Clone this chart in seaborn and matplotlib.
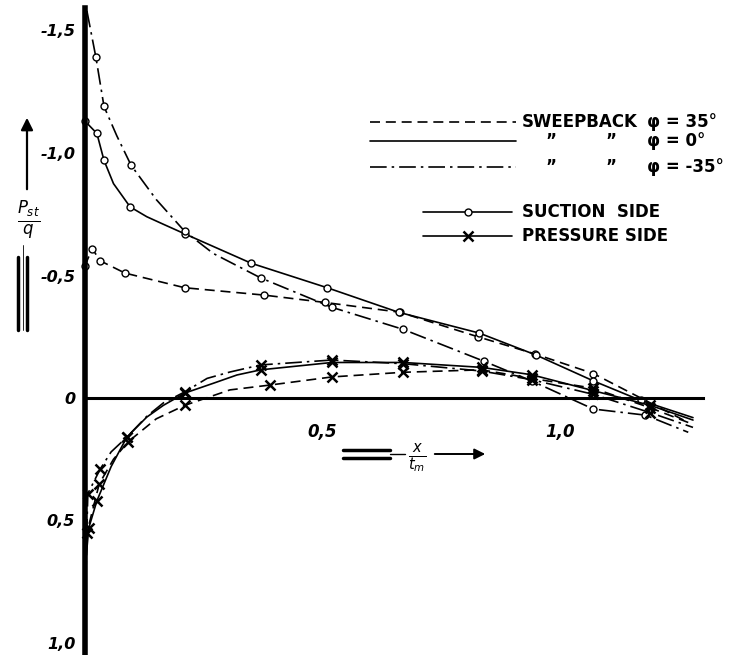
import numpy as np
import pandas as pd
import matplotlib
matplotlib.use("Agg")
import matplotlib.pyplot as plt
import seaborn as sns
from matplotlib.lines import Line2D

sns.set_style("white")
plt.rcParams['font.family'] = ['DejaVu Sans']

# ---------------- data ----------------
# suction side, sweepback phi = 35 deg (dashed)
x_suc_35 = [0.0, 0.015, 0.032, 0.084, 0.21, 0.377, 0.505, 0.663, 0.827, 0.947, 1.07, 1.27]
y_suc_35 = [-0.54, -0.61, -0.56, -0.51, -0.45, -0.42, -0.39, -0.35, -0.25, -0.18, -0.10, 0.10]
m_suc_35 = [0, 1, 2, 3, 4, 5, 6, 7, 8, 9, 10]
# suction side, phi = 0 deg (solid)
x_suc_0 = [0.0, 0.025, 0.04, 0.06, 0.095, 0.13, 0.164, 0.21, 0.35, 0.51, 0.66, 0.83, 0.95, 1.07, 1.17, 1.28]
y_suc_0 = [-1.13, -1.08, -0.97, -0.875, -0.78, -0.74, -0.71, -0.67, -0.55, -0.45, -0.35, -0.265, -0.175, -0.07, 0.01, 0.08]
m_suc_0 = [0, 1, 2, 4, 7, 8, 9, 10, 11, 12, 13, 14]
# suction side, phi = -35 deg (dash-dot)
x_suc_m35 = [0.004, 0.023, 0.04, 0.067, 0.097, 0.15, 0.21, 0.27, 0.37, 0.52, 0.67, 0.84, 0.94, 1.07, 1.18, 1.27]
y_suc_m35 = [-1.58, -1.39, -1.19, -1.07, -0.95, -0.81, -0.68, -0.59, -0.49, -0.37, -0.28, -0.15, -0.07, 0.045, 0.07, 0.14]
m_suc_m35 = [1, 2, 4, 6, 8, 9, 10, 11, 12, 13, 14]

# pressure side, phi = 35 deg (dashed)
x_pre_35 = [0.0, 0.004, 0.03, 0.06, 0.09, 0.15, 0.21, 0.305, 0.39, 0.52, 0.67, 0.835, 0.94, 1.07, 1.19, 1.27]
y_pre_35 = [0.90, 0.55, 0.35, 0.25, 0.18, 0.085, 0.03, -0.033, -0.053, -0.086, -0.105, -0.115, -0.08, -0.04, 0.04, 0.10]
m_pre_35 = [1, 2, 4, 6, 8, 9, 10, 11, 12, 13, 14]
# pressure side, phi = 0 deg (solid)
x_pre_0 = [0.0, 0.008, 0.025, 0.055, 0.088, 0.13, 0.165, 0.21, 0.27, 0.32, 0.37, 0.52, 0.67, 0.835, 0.94, 1.07, 1.19, 1.28]
y_pre_0 = [0.70, 0.53, 0.42, 0.28, 0.16, 0.078, 0.03, -0.02, -0.06, -0.094, -0.115, -0.145, -0.145, -0.125, -0.095, -0.03, 0.03, 0.09]
m_pre_0 = [1, 2, 4, 7, 10, 11, 12, 13, 14, 15, 16]
# pressure side, phi = -35 deg (dash-dot)
x_pre_m35 = [0.0, 0.006, 0.032, 0.055, 0.088, 0.13, 0.165, 0.21, 0.257, 0.305, 0.37, 0.52, 0.67, 0.835, 0.94, 1.07, 1.19, 1.28]
y_pre_m35 = [0.80, 0.39, 0.29, 0.22, 0.16, 0.075, 0.02, -0.025, -0.08, -0.106, -0.135, -0.155, -0.14, -0.11, -0.075, -0.015, 0.06, 0.12]
m_pre_m35 = [1, 2, 4, 7, 10, 11, 12, 13, 14, 15, 16]

y_ticks = [-1.5, -1.0, -0.5, 0.0, 0.5, 1.0]
y_tick_labels = ["-1,5", "-1,0", "-0,5", "0", "0,5", "1,0"]
x_ticks = [0.5, 1.0]
x_tick_labels = ["0,5", "1,0"]

# ---------------- layout ----------------
W, H = 743, 655
fig = plt.figure(figsize=(W / 100, H / 100), dpi=100)
fig.patch.set_facecolor("white")

X0PX, XSCALE = 85, 475.0
Y0PX, YSCALE = 398, 245.0
XMIN, XMAX = -0.02, 1.32
YTOP, YBOT = -1.6, 1.05
lpx = X0PX + XMIN * XSCALE
rpx = X0PX + XMAX * XSCALE
tpx = Y0PX + YTOP * YSCALE
bpx = Y0PX + YBOT * YSCALE
ax = fig.add_axes([lpx / W, 1 - bpx / H, (rpx - lpx) / W, (bpx - tpx) / H])
ax.set_facecolor("white")
ax.set_xlim(XMIN, XMAX)
ax.set_ylim(YBOT, YTOP)

LS_DASH = (0, (6, 3.5))
LS_DASHDOT = (0, (10, 3, 1.5, 3))

def draw(x, y, ls, marker, idx):
    kw = dict(color="black", lw=1.2, linestyle=ls, marker=marker, markevery=idx,
              sort=False, estimator=None, ax=ax)
    if marker == "o":
        kw.update(markersize=5, markerfacecolor="white", markeredgecolor="black",
                  markeredgewidth=1.0)
    else:
        kw.update(markersize=7, markeredgecolor="black", markeredgewidth=1.8)
    sns.lineplot(x=x, y=y, **kw)

draw(x_suc_35, y_suc_35, LS_DASH, "o", m_suc_35)
draw(x_suc_0, y_suc_0, "-", "o", m_suc_0)
draw(x_suc_m35, y_suc_m35, LS_DASHDOT, "o", m_suc_m35)
draw(x_pre_35, y_pre_35, LS_DASH, "x", m_pre_35)
draw(x_pre_0, y_pre_0, "-", "x", m_pre_0)
draw(x_pre_m35, y_pre_m35, LS_DASHDOT, "x", m_pre_m35)

# axes as thick lines through the origin
for s in ["top", "right"]:
    ax.spines[s].set_visible(False)
ax.spines["left"].set_position(("data", 0))
ax.spines["left"].set_bounds(-1.59, 1.05)
ax.spines["left"].set_linewidth(4)
ax.spines["bottom"].set_position(("data", 0))
ax.spines["bottom"].set_bounds(0, 1.30)
ax.spines["bottom"].set_linewidth(2.2)
for s in ["left", "bottom"]:
    ax.spines[s].set_color("black")

ax.set_yticks(y_ticks)
ax.set_yticklabels(y_tick_labels, fontstyle="italic", fontweight="bold", fontsize=11.5)
ax.set_xticks(x_ticks)
ax.set_xticklabels(x_tick_labels, fontstyle="italic", fontweight="bold", fontsize=12)
ax.tick_params(axis="y", length=6, width=1.3, pad=1, direction="out", colors="black")
ax.tick_params(axis="x", length=4, width=1.2, pad=14, direction="out", colors="black")
ax.set_xlabel("")
ax.set_ylabel("")

# ---------------- helpers in figure pixels ----------------
def fx(p):
    return p / W

def fy(p):
    return 1 - p / H

def hline(x0, x1, y, ls="-", lw=1.2):
    fig.add_artist(Line2D([fx(x0), fx(x1)], [fy(y), fy(y)], color="black", lw=lw,
                          linestyle=ls, transform=fig.transFigure))

def vline(x, y0, y1, lw=1.2):
    fig.add_artist(Line2D([fx(x), fx(x)], [fy(y0), fy(y1)], color="black", lw=lw,
                          transform=fig.transFigure))

def mark(x, y, m):
    if m == "o":
        fig.add_artist(Line2D([fx(x)], [fy(y)], marker="o", markersize=5,
                              markerfacecolor="white", markeredgecolor="black",
                              markeredgewidth=1.0, transform=fig.transFigure))
    else:
        fig.add_artist(Line2D([fx(x)], [fy(y)], marker="x", markersize=7,
                              markeredgecolor="black", markeredgewidth=1.8,
                              transform=fig.transFigure))

TXT = dict(fontsize=12, fontweight="bold", color="black", va="center", ha="left")

# legend: line styles
hline(370, 516, 122, LS_DASH)
hline(370, 516, 141, "-")
hline(370, 516, 167, LS_DASHDOT)
fig.text(fx(522), fy(122), "SWEEPBACK", **TXT)
fig.text(fx(545), fy(141), "\u201d", **TXT)
fig.text(fx(605), fy(141), "\u201d", **TXT)
fig.text(fx(545), fy(167), "\u201d", **TXT)
fig.text(fx(605), fy(167), "\u201d", **TXT)
fig.text(fx(647), fy(122), "\u03c6 = 35\u00b0", **TXT)
fig.text(fx(647), fy(141), "\u03c6 = 0\u00b0", **TXT)
fig.text(fx(647), fy(167), "\u03c6 = -35\u00b0", **TXT)

# legend: marker meaning
hline(423, 512, 212, "-")
mark(468, 212, "o")
hline(423, 512, 236, "-")
mark(468, 236, "x")
fig.text(fx(522), fy(212), "SUCTION  SIDE", **TXT)
fig.text(fx(522), fy(236), "PRESSURE SIDE", **TXT)

# y axis label with arrow
fig.add_artist(matplotlib.patches.FancyArrowPatch((fx(27), fy(192)), (fx(27), fy(115)),
               transform=fig.transFigure, arrowstyle="-|>", mutation_scale=18,
               color="black", lw=1.6))
fig.text(fx(29), fy(221), r"$\frac{P_{st}}{q}$", fontsize=17, ha="center", va="center",
         color="black")
vline(18, 257, 330, lw=2.5)
vline(27, 257, 330, lw=2.5)
vline(23, 245, 330, lw=0.6)

# x axis label with arrow
hline(343, 390, 450, lw=2.5)
hline(343, 390, 458, lw=2.5)
hline(390, 405, 454, lw=1.0)
fig.text(fx(417), fy(458), r"$\frac{x}{t_m}$", fontsize=15, ha="center", va="center",
         color="black")
fig.add_artist(matplotlib.patches.FancyArrowPatch((fx(432), fy(454)), (fx(488), fy(454)),
               transform=fig.transFigure, arrowstyle="-|>", mutation_scale=16,
               color="black", lw=1.4))

fig.savefig("out.png", dpi=100, facecolor="white")
